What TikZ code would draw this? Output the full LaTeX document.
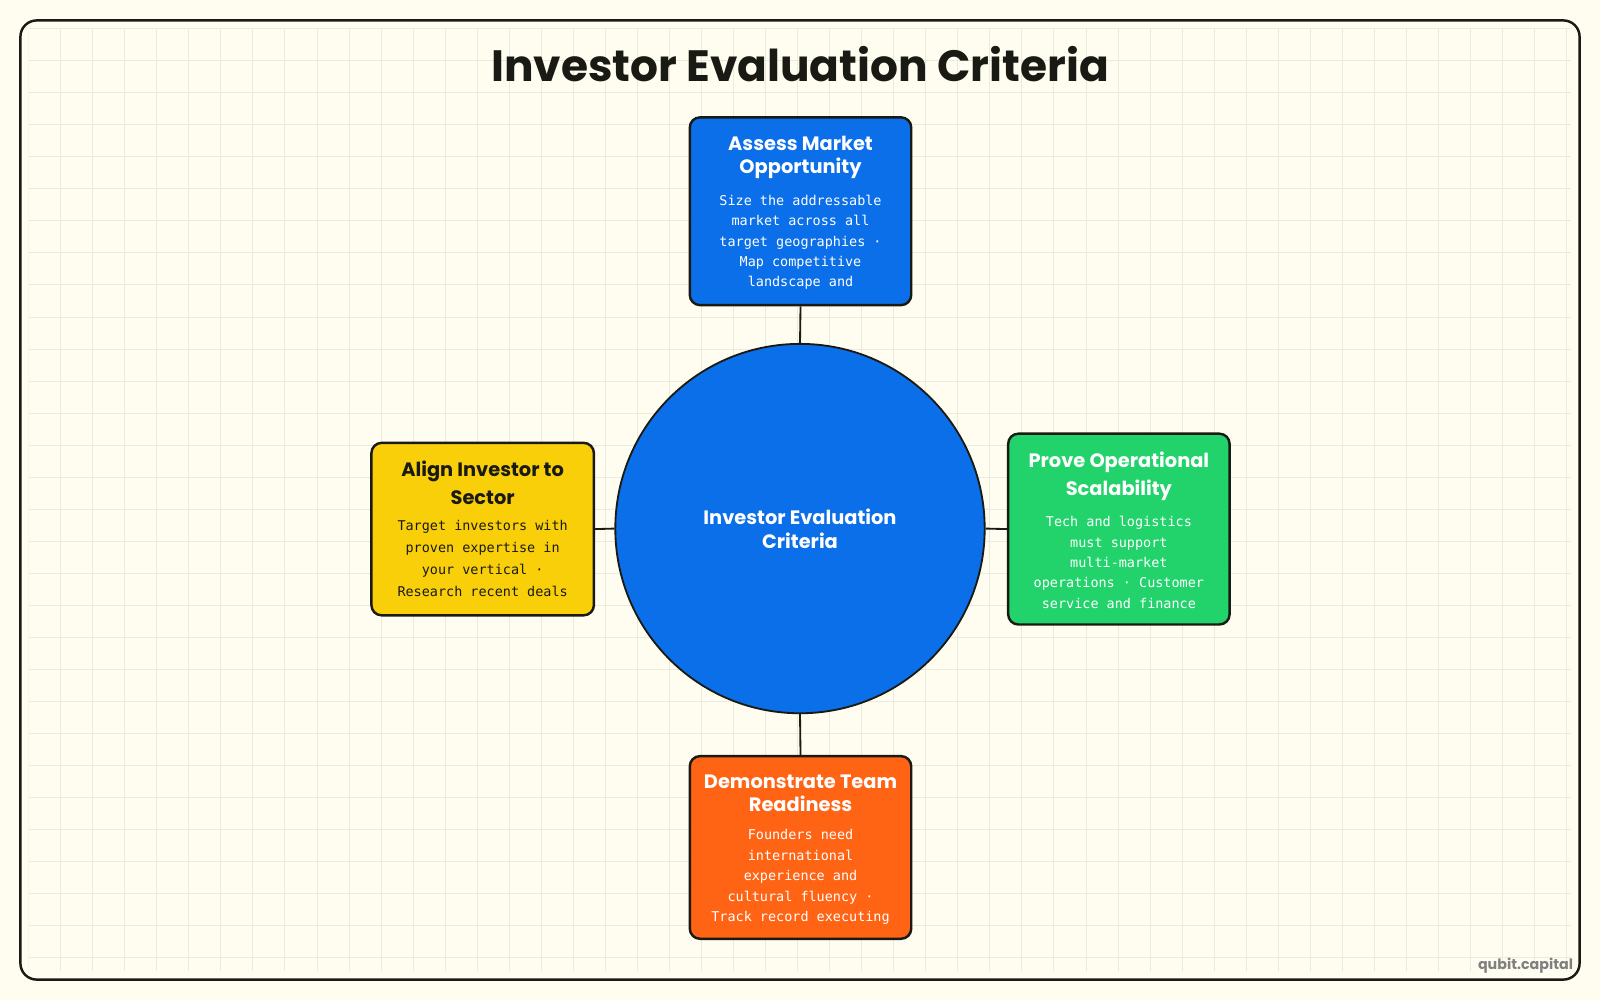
\documentclass[tikz,border=0pt]{standalone}
\usepackage{fontspec}
\setmainfont{Poppins}
\newfontfamily\monof{DejaVu Sans Mono}
\definecolor{bgc}{HTML}{FFFDF0}
\definecolor{gridc}{HTML}{ECEADC}
\definecolor{blu}{HTML}{0A6FE8}
\definecolor{yel}{HTML}{F9CF0A}
\definecolor{grn}{HTML}{22D36B}
\definecolor{org}{HTML}{FF6314}
\definecolor{ink}{HTML}{1A1A14}
\begin{document}
\begin{tikzpicture}[x=0.5pt,y=-0.5pt,
  card/.style={draw=ink,line width=1.2pt,rounded corners=5pt,inner sep=0pt},
  ttl/.style={font=\bfseries\fontsize{9.5}{11.5}\selectfont,align=center},
  bdy/.style={font=\monof\fontsize{6.6}{10}\selectfont,align=center}]
\tikzset{link/.style={draw=ink,line width=0.9pt}}
\useasboundingbox (0,0) rectangle (1568,980);
\fill[bgc] (0,0) rectangle (1568,980);
\begin{scope}
\clip (28,28) rectangle (1540,952);
\foreach \x in {28,59.4,...,1540} \draw[gridc,line width=0.4pt] (\x,28) -- (\x,952);
\foreach \y in {28,59.4,...,952} \draw[gridc,line width=0.4pt] (28,\y) -- (1540,\y);
\end{scope}
\draw[ink,line width=1.2pt,rounded corners=8pt] (20,20) rectangle (1548,960);
\node[font=\bfseries\fontsize{21.5}{26}\selectfont,text=ink] (title) at (784,63) {Investor Evaluation Criteria};
\node[font=\bfseries\fontsize{7}{8}\selectfont,text=gray] (wm) at (1495,946) {qubit.capital};
\node[circle,draw=ink,line width=0.9pt,fill=blu,minimum size=181pt,inner sep=0pt,
  text=white,font=\bfseries\fontsize{9.5}{11.5}\selectfont,align=center] (c) at (784,518) {Investor Evaluation\\Criteria};
\node[card,fill=blu,minimum width=108.5pt,minimum height=92pt] (top) at (784.5,207) {};
\node[ttl,text=white,anchor=north] (topt) at (784.5,126) {Assess Market\\Opportunity};
\node[bdy,text=white,anchor=north] (topb) at (784.5,184) {Size the addressable\\market across all\\target geographies ·\\Map competitive\\landscape and};
\node[card,fill=yel,minimum width=109pt,minimum height=84.5pt] (lft) at (473,518.5) {};
\node[ttl,text=ink,anchor=north,font=\bfseries\fontsize{9.5}{13.5}\selectfont] (lftt) at (473,445) {Align Investor to\\Sector};
\node[bdy,text=ink,anchor=north,font=\monof\fontsize{6.6}{10.8}\selectfont] (lftb) at (473,503) {Target investors with\\proven expertise in\\your vertical ·\\Research recent deals};
\node[card,fill=grn,minimum width=108.5pt,minimum height=93.5pt] (rgt) at (1096.5,518.5) {};
\node[ttl,text=white,anchor=north,font=\bfseries\fontsize{9.5}{13.5}\selectfont] (rgtt) at (1096.5,436) {Prove Operational\\Scalability};
\node[bdy,text=white,anchor=north] (rgtb) at (1096.5,499) {Tech and logistics\\must support\\multi-market\\operations · Customer\\service and finance};
\node[card,fill=org,minimum width=108.5pt,minimum height=89.5pt] (bot) at (784.5,830.5) {};
\node[ttl,text=white,anchor=north] (bott) at (784.5,752) {Demonstrate Team\\Readiness};
\node[bdy,text=white,anchor=north] (botb) at (784.5,806) {Founders need\\international\\experience and\\cultural fluency ·\\Track record executing};
\draw[link] (top.south) -- (c.north);
\draw[link] (lft.east) -- (c.west);
\draw[link] (rgt.west) -- (c.east);
\draw[link] (bot.north) -- (c.south);
\end{tikzpicture}
\end{document}
